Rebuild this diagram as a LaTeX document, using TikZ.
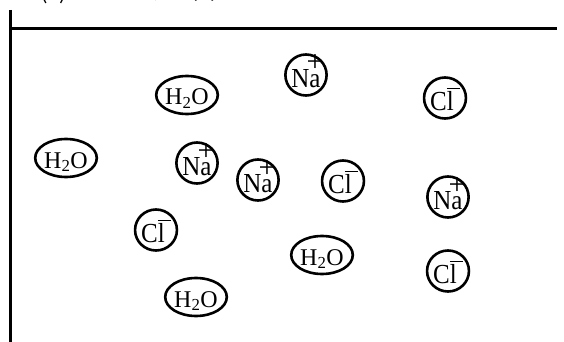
\documentclass[tikz,border=0pt]{standalone}
\usepackage{fontspec}
\usepackage{graphicx}
\setmainfont{Liberation Serif}
\newfontfamily\jpfont{Noto Sans CJK JP}
\usetikzlibrary{shapes.geometric}

\newcommand{\tall}[1]{\scalebox{1}[1.1]{#1}}
\newcommand{\NaIon}{\tall{Na}\rlap{\kern-14pt\raisebox{15.5pt}{\fontsize{30}{30}\selectfont +}}}
\newcommand{\ClIon}{\tall{Cl}\kern-7pt\raisebox{21.5pt}{\rule{13pt}{1.2pt}}}
\newcommand{\water}{H\textsubscript{2}O}

\tikzset{
    ion/.style={draw, ellipse, line width=2.6pt, minimum width=40pt, minimum height=41pt,
        inner sep=0pt, text height=25pt, text depth=0pt,
        font=\fontsize{25}{25}\selectfont},
    mol/.style={draw, ellipse, line width=2.6pt, minimum width=59pt, minimum height=38pt,
        inner sep=0pt, text height=20pt, text depth=0pt,
        font=\fontsize{24}{24}\selectfont},
    heading/.style={anchor=base west, inner sep=0pt, font=\jpfont\fontsize{22}{22}\selectfont}
}

\begin{document}
\begin{tikzpicture}[x=1pt, y=-1pt]
    \useasboundingbox (0,0) rectangle (564,342);

    % title, cut off at the top
    \node[heading] (num) at (40,0) {(2)};
    \node[heading] (title) at (127,0) {モデル図};

    % frame
    \draw[line width=3pt] (10,10) -- (10,342);
    \draw[line width=3pt] (10,29) -- (557,29);

    % particles
    \node[ion] (na1) at (306,75) {\NaIon};
    \node[mol] (w1) at (187,95) {\water};
    \node[ion] (cl1) at (445,98) {\ClIon};

    \node[mol] (w2) at (66,158) {\water};
    \node[ion] (na2) at (197,163) {\NaIon};
    \node[ion] (na3) at (258,180) {\NaIon};
    \node[ion] (cl2) at (343,181) {\ClIon};
    \node[ion] (na4) at (448,197) {\NaIon};

    \node[ion] (cl3) at (156,230) {\ClIon};
    \node[mol] (w3) at (322,255) {\water};
    \node[ion] (cl4) at (448,271) {\ClIon};
    \node[mol] (w4) at (196,297) {\water};
\end{tikzpicture}
\end{document}
